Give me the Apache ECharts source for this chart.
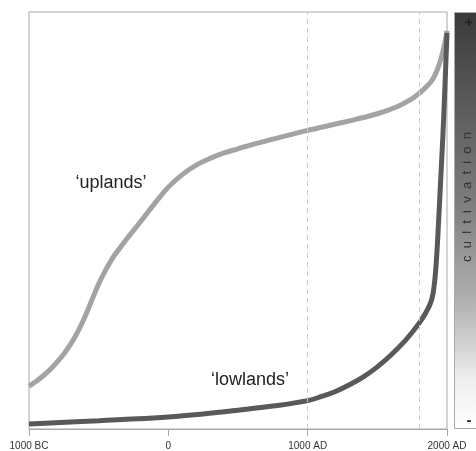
<!DOCTYPE html>
<html>
<head>
<meta charset="utf-8">
<script src="https://cdn.jsdelivr.net/npm/echarts@6/dist/echarts.min.js"></script>
<style>html,body{margin:0;padding:0;background:#fff}#c{width:476px;height:451px}</style>
</head>
<body>
<div id="c"></div>
<script>
var tickValues = [-1000, 0, 1000, 2000];
var tickLabels = ['1000 BC', '0', '1000 AD', '2000 AD'];
var refYears = [1000, 1800];
var uplandsYears = [-1000, -950, -900, -850, -800, -750, -700, -650, -600, -550, -500, -450, -400, -350, -300, -200, -100, 0, 100, 200, 300, 400, 500, 600, 750, 1000, 1250, 1500, 1650, 1750, 1800, 1850, 1900, 1940, 1970, 1990, 2000];
var uplandsValues = [10.3, 11.4, 12.7, 14.2, 16.0, 18.0, 20.4, 23.3, 26.8, 30.8, 34.8, 38.1, 41.0, 43.3, 45.5, 49.7, 54.0, 58.0, 61.0, 63.3, 64.9, 66.2, 67.2, 68.2, 69.5, 71.6, 73.5, 75.6, 77.4, 79.2, 80.5, 82.0, 84.0, 87.0, 90.5, 93.5, 95.5];
var lowlandsYears = [-1000, -500, 0, 250, 500, 750, 1000, 1100, 1200, 1300, 1400, 1500, 1600, 1700, 1750, 1800, 1850, 1890, 1910, 1925, 1940, 1955, 1970, 1985, 2000];
var lowlandsValues = [1.2, 2.0, 2.9, 3.6, 4.5, 5.5, 6.8, 7.8, 9.0, 10.6, 12.5, 14.9, 17.8, 21.2, 23.2, 25.4, 28.0, 31.0, 35.0, 41.0, 50.0, 60.0, 70.0, 82.0, 95.0];
var seriesNames = ['\u2018uplands\u2019', '\u2018lowlands\u2019'];
var labelPos = [[-411, 59], [586, 11.7]];

function pairs(xs, ys) { return xs.map(function (x, i) { return [x, ys[i]]; }); }

var chart = echarts.init(document.getElementById('c'));
var font = '"Liberation Sans", Arial, sans-serif';
chart.setOption({
  animation: false,
  grid: { left: 29, right: 29, top: 12, bottom: 21, show: true, borderColor: '#a8a8a8', borderWidth: 1, backgroundColor: '#fff' },
  xAxis: {
    type: 'value', min: -1000, max: 2000, interval: 1000,
    axisLine: { show: true, lineStyle: { color: '#a8a8a8', width: 1 } },
    axisTick: { show: true, length: 7, lineStyle: { color: '#a8a8a8' } },
    splitLine: { show: false },
    axisLabel: {
      margin: 12, fontSize: 10, color: '#333', fontFamily: font,
      formatter: function (v) { var i = tickValues.indexOf(v); return i >= 0 ? tickLabels[i] : ''; }
    }
  },
  yAxis: { type: 'value', min: 0, max: 100, show: false },
  series: [
    {
      name: seriesNames[0], type: 'line', data: pairs(uplandsYears, uplandsValues),
      smooth: 0.4, symbol: 'none',
      lineStyle: { color: '#a3a3a3', width: 5 },
      markLine: {
        silent: true, symbol: 'none', label: { show: false },
        lineStyle: { color: '#cccccc', width: 1, type: [5, 4] },
        data: refYears.map(function (y) { return { xAxis: y }; })
      },
      markPoint: {
        symbol: 'circle', symbolSize: 0,
        label: { show: true, position: 'inside', formatter: seriesNames[0], fontSize: 18, color: '#222', fontFamily: font },
        data: [{ coord: labelPos[0] }]
      },
      z: 3
    },
    {
      name: seriesNames[1], type: 'line', data: pairs(lowlandsYears, lowlandsValues),
      smooth: 0.4, symbol: 'none',
      lineStyle: { color: '#595959', width: 5 },
      markPoint: {
        symbol: 'circle', symbolSize: 0,
        label: { show: true, position: 'inside', formatter: seriesNames[1], fontSize: 18, color: '#222', fontFamily: font },
        data: [{ coord: labelPos[1] }]
      },
      z: 4
    }
  ],
  graphic: [
    {
      type: 'rect', shape: { x: 454.5, y: 12.5, width: 30, height: 416 },
      style: {
        stroke: '#aaaaaa', lineWidth: 1,
        fill: new echarts.graphic.LinearGradient(0, 0, 0, 1, [
          { offset: 0, color: '#3a3a3a' },
          { offset: 0.45, color: '#7c7c7c' },
          { offset: 0.7, color: '#b2b2b2' },
          { offset: 0.88, color: '#eeeeee' },
          { offset: 1, color: '#ffffff' }
        ])
      }
    },
    { type: 'text', x: 469, y: 23, style: { text: '+', fontSize: 15, fontWeight: 'bold', fill: '#222', align: 'center', verticalAlign: 'middle', fontFamily: font } },
    { type: 'text', x: 469, y: 421, style: { text: '-', fontSize: 15, fontWeight: 'bold', fill: '#222', align: 'center', verticalAlign: 'middle', fontFamily: font } },
    { type: 'text', x: 467, y: 197, rotation: Math.PI / 2, style: { text: 'c  u  l  t  i  v  a  t  i  o  n', fontSize: 13, fill: '#333', align: 'center', verticalAlign: 'middle', fontFamily: font } }
  ]
});
</script>
</body>
</html>
